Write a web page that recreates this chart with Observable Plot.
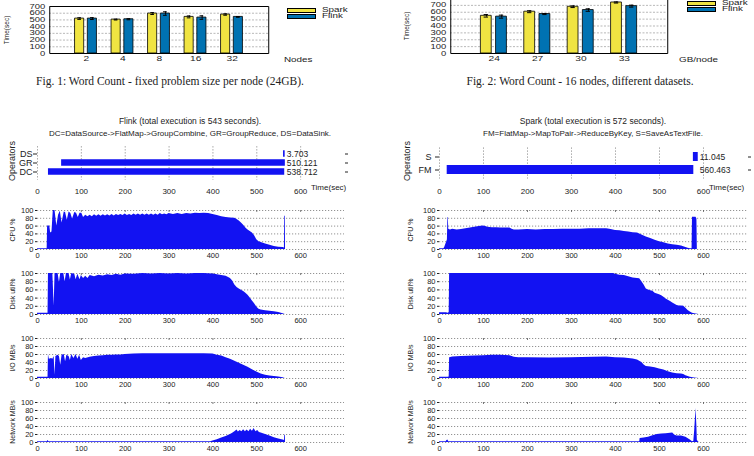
<!DOCTYPE html>
<html><head><meta charset="utf-8">
<script src="https://cdn.jsdelivr.net/npm/d3@7"></script>
<script src="https://cdn.jsdelivr.net/npm/@observablehq/plot@0.6"></script>
<style>
body{margin:0;background:#fff;}
#root{position:relative;width:754px;height:456px;overflow:hidden;background:#fff;font-family:"Liberation Sans",Arial,sans-serif;}
.tx{position:absolute;white-space:nowrap;line-height:1;color:#222;}
svg.st *{vector-effect:non-scaling-stroke;}
</style></head><body><div id="root"></div>
<script>
// ---------- data ----------
const nodes = ["2","4","8","16","32"];
const sparkNodes = [520,505,595,545,580];
const sparkNodesErr = [12,6,14,14,10];
const flinkNodes = [520,510,595,535,545];
const flinkNodesErr = [14,8,26,26,6];

const datasets = ["24","27","30","33"];
const sparkData = [548,608,680,742];
const sparkDataErr = [18,14,12,8];
const flinkData = [536,574,632,689];
const flinkDataErr = [22,8,18,14];

const timeTicks = [0,100,200,300,400,500,600];
const pctTicks = [0,20,40,60,80,100];
const fig1Ticks = [0,100,200,300,400,500,600,700];

const flinkOpNames = ["DS","GR","DC"];
const flinkOpStart = [561,55,25];
const flinkOpDur = [3.703,510.121,538.712];
const sparkOpNames = ["S","FM"];
const sparkOpStart = [577,17.5];
const sparkOpDur = [11.045,560.463];

const flinkCpu = [[0,2],[22,2],[23,60],[28,60],[30,42],[33,45],[36,100],[40,100],[44,60],[48,88],[52,98],[56,68],[61,96],[64,95],[68,75],[72,96],[76,92],[80,78],[85,95],[89,93],[93,82],[97,93],[101,93],[105,82],[110,88],[115,84],[120,88],[125,84],[130,89],[135,85],[140,89],[145,85],[150,89],[155,86],[160,89],[165,86],[170,90],[175,86],[180,90],[185,87],[190,90],[195,87],[200,91],[205,87],[210,90],[215,87],[220,91],[225,88],[230,91],[235,88],[240,91],[245,88],[250,91],[255,88],[260,91],[265,88],[270,91],[275,88],[280,92],[285,89],[290,91],[295,89],[300,92],[310,90],[320,92],[330,90],[340,92],[350,91],[360,93],[370,92],[380,93],[390,92],[400,90],[410,87],[420,84],[430,82],[440,81],[450,80],[455,77],[460,73],[465,68],[470,62],[475,55],[480,50],[485,46],[490,42],[495,35],[500,25],[505,20],[510,18],[520,14],[530,11],[540,8],[550,6],[560,5],[563,4],[563.5,85],[565,85],[565.5,0]];
const flinkDisk = [[0,3],[24,3],[25,100],[35,100],[38,20],[40,100],[47,100],[50,78],[53,100],[60,100],[63,80],[66,100],[72,100],[75,84],[78,100],[85,98],[88,85],[92,98],[97,85],[100,95],[105,88],[110,93],[115,88],[120,95],[130,92],[140,96],[150,94],[160,97],[170,95],[180,98],[190,96],[200,99],[220,98],[240,100],[260,99],[280,100],[300,99],[320,100],[340,99],[360,100],[380,100],[400,99],[410,97],[420,95],[430,93],[440,88],[445,82],[450,72],[455,66],[460,62],[465,59],[470,56],[475,52],[480,47],[485,40],[490,33],[495,26],[500,18],[505,13],[510,11],[520,9],[530,8],[540,7],[550,5],[560,2],[565,0]];
const flinkIO = [[0,3],[24,3],[25,60],[27,48],[32,50],[35,48],[38,55],[40,8],[42,55],[47,58],[50,55],[53,33],[56,58],[61,60],[64,42],[67,58],[72,55],[75,45],[78,60],[83,50],[88,60],[92,48],[96,58],[100,45],[105,52],[110,50],[120,53],[130,55],[140,56],[150,57],[160,58],[170,58],[180,59],[190,59],[200,60],[220,61],[240,62],[260,62],[280,62],[300,62],[320,62],[340,62],[360,62],[380,62],[400,61],[410,58],[420,56],[430,52],[440,48],[450,43],[460,38],[470,33],[480,28],[490,22],[500,16],[510,11],[520,8],[530,6],[540,5],[550,4],[560,2],[565,0]];
const flinkNet = [[0,2],[22,2],[24,5],[26,2],[395,2],[400,4],[410,7],[420,11],[430,15],[440,20],[445,23],[450,27],[455,31],[458,26],[462,30],[466,27],[470,32],[474,27],[478,31],[482,27],[486,33],[490,28],[494,35],[498,27],[502,30],[506,25],[510,24],[520,20],[530,16],[540,12],[550,9],[560,6],[563,5],[563.5,18],[565,18],[565.5,0]];

const sparkCpu = [[0,2],[10,2],[12,6],[14,12],[16,18],[18,25],[19,82],[20,82],[21,52],[25,50],[30,52],[40,50],[50,51],[60,53],[70,55],[80,57],[90,59],[100,60],[105,59],[110,57],[120,56],[130,56],[140,55],[150,55],[160,55],[165,52],[170,50],[180,50],[200,51],[220,50],[240,51],[260,51],[280,52],[300,52],[320,52],[340,53],[360,53],[380,53],[390,51],[400,49],[410,48],[420,46],[430,45],[440,43],[450,42],[460,37],[470,32],[480,28],[490,24],[500,20],[510,17],[520,14],[530,12],[540,11],[550,9],[555,7],[560,5],[565,3],[570,2],[574,2],[575,83],[583,83],[585,78],[586,0]];
const sparkDisk = [[0,4],[16,4],[20,3],[22,5],[23,100],[395,100],[400,98],[410,96],[420,95],[430,92],[440,89],[450,88],[455,87],[460,80],[465,72],[470,62],[475,60],[480,58],[485,57],[490,52],[500,48],[505,46],[510,42],[515,38],[520,35],[525,32],[530,28],[535,25],[540,22],[545,21],[550,21],[555,20],[560,15],[565,10],[570,6],[575,3],[580,2],[590,0]];
const sparkIO = [[0,3],[20,3],[22,4],[23,52],[30,54],[50,55],[80,56],[100,57],[120,58],[140,58],[160,57],[170,53],[180,52],[200,52],[250,51],[300,52],[350,53],[380,54],[400,52],[420,51],[440,49],[450,46],[460,40],[465,34],[470,30],[480,29],[490,27],[500,24],[510,21],[520,17],[530,14],[540,12],[550,11],[555,10],[560,7],[570,3],[580,1],[590,0]];
const sparkNet = [[0,2],[15,2],[17,5],[19,6],[21,2],[455,2],[456,10],[465,11],[475,13],[485,17],[495,20],[505,21],[515,22],[525,23],[530,24],[535,18],[540,16],[550,16],[560,13],[570,6],[575,2],[578,3],[580,30],[583,85],[585,40],[586,5],[590,0]];

// ---------- helpers ----------
const root = document.getElementById("root");
const SANS = "'Liberation Sans', Arial, sans-serif";
const SERIF = "'Liberation Serif', 'Times New Roman', serif";
const BLUE = "#1212f2";
const YELLOW = "#f0e442";
const FBLUE = "#0072b2";
const baseStyle = `font-family:${SANS};background:transparent;overflow:visible;color:#222;`;

function place(el, left, top) {
  el.style.position = "absolute";
  el.style.left = left + "px";
  el.style.top = top + "px";
  root.appendChild(el);
  return el;
}
function txt(s, x, y, {size = 8, anchor = "middle", family = SANS, rot = 0, sx = 1} = {}) {
  const d = document.createElement("div");
  d.className = "tx";
  d.textContent = s;
  d.style.fontSize = size + "px";
  d.style.fontFamily = family;
  d.style.left = x + "px";
  d.style.top = y + "px";
  const tx = anchor === "middle" ? "-50%" : anchor === "end" ? "-100%" : "0";
  d.style.transformOrigin = anchor === "start" ? "0 50%" : anchor === "end" ? "100% 50%" : "50% 50%";
  d.style.transform = `translate(${tx},-50%) rotate(${rot}deg) scaleX(${sx})`;
  root.appendChild(d);
  return d;
}
function box(left, top, color) {
  const d = document.createElement("div");
  d.style.cssText = `position:absolute;left:${left}px;top:${top}px;width:27px;height:3px;background:${color};border:1px solid #000;`;
  root.appendChild(d);
}

// ---------- top grouped bar charts (horizontally stretched like the original) ----------
function grouped({cats, spark, sparkErr, flink, flinkErr, yMax, yTicks, pageLeft, pageTop, pageW, pageH, frameL, frameR, yTopPx, y0Px, sx}) {
  const rows = cats.flatMap((c, i) => [
    {i, v: spark[i], e: sparkErr[i], x1: i - 0.3, x2: i - 0.05, c: YELLOW},
    {i, v: flink[i], e: flinkErr[i], x1: i + 0.05, x2: i + 0.3, c: FBLUE}
  ]);
  const w = pageW / sx;
  const svg = Plot.plot({
    width: w, height: pageH,
    marginLeft: (frameL - pageLeft) / sx,
    marginRight: (pageLeft + pageW - frameR) / sx,
    marginTop: yTopPx - pageTop,
    marginBottom: pageTop + pageH - y0Px,
    style: baseStyle,
    x: {domain: [-1, cats.length], label: null},
    y: {domain: [0, yMax], label: null},
    color: {type: "identity"},
    marks: [
      Plot.ruleY(yTicks.slice(1), {y: d => d, stroke: "#999", strokeDasharray: "2,1.5", strokeWidth: 0.7}),
      Plot.rectY(rows, {x1: "x1", x2: "x2", y1: 0, y2: "v", fill: "c", stroke: "#000", strokeWidth: 0.8}),
      Plot.ruleX(rows, {x: d => (d.x1 + d.x2) / 2, y1: d => d.v - d.e, y2: d => d.v + d.e, stroke: "#000", strokeWidth: 1}),
      Plot.ruleY(rows, {y: d => d.v + d.e, x1: d => (d.x1 + d.x2) / 2 - 0.05, x2: d => (d.x1 + d.x2) / 2 + 0.05, stroke: "#000", strokeWidth: 1}),
      Plot.ruleY(rows, {y: d => d.v - d.e, x1: d => (d.x1 + d.x2) / 2 - 0.05, x2: d => (d.x1 + d.x2) / 2 + 0.05, stroke: "#000", strokeWidth: 1}),
      Plot.frame({stroke: "#000", strokeWidth: 1}),
      Plot.axisY({ticks: yTicks, tickSize: 0, tickPadding: 3, fontSize: 6.3, label: null}),
      Plot.axisX({ticks: cats.map((c, i) => i), tickFormat: i => cats[i], tickSize: 0, tickPadding: 2.5, fontSize: 6.8, label: null})
    ]
  });
  svg.setAttribute("preserveAspectRatio", "none");
  svg.setAttribute("width", pageW);
  svg.style.width = pageW + "px";
  svg.style.height = pageH + "px";
  svg.style.maxWidth = "none";
  svg.classList.add("st");
  place(svg, pageLeft, pageTop);
}

grouped({cats: nodes, spark: sparkNodes, sparkErr: sparkNodesErr, flink: flinkNodes, flinkErr: flinkNodesErr,
  yMax: 700, yTicks: fig1Ticks, pageLeft: 0, pageTop: 0, pageW: 377, pageH: 70, frameL: 49, frameR: 268, yTopPx: 6, y0Px: 53, sx: 1.5});
grouped({cats: datasets, spark: sparkData, sparkErr: sparkDataErr, flink: flinkData, flinkErr: flinkDataErr,
  yMax: 800, yTicks: fig1Ticks, pageLeft: 380, pageTop: -12, pageW: 374, pageH: 82, frameL: 450, frameR: 667, yTopPx: -2, y0Px: 53, sx: 1.5});

// top chart texts
txt("Time(sec)", 7, 30, {size: 6.5, rot: -90});
txt("Nodes", 284, 59.5, {size: 6.8, anchor: "start", sx: 1.45});
box(287, 8, YELLOW); box(287, 14, FBLUE);
txt("Spark", 322, 10, {size: 6.8, anchor: "start", sx: 1.45});
txt("Flink", 322, 16, {size: 6.8, anchor: "start", sx: 1.45});

txt("Time(sec)", 407, 26, {size: 6.5, rot: -90});
txt("GB/node", 679, 59.5, {size: 6.8, anchor: "start", sx: 1.45});
box(687, 1, YELLOW); box(687, 7, FBLUE);
txt("Spark", 722, 3.4, {size: 6.8, anchor: "start", sx: 1.45});
txt("Flink", 722, 9.2, {size: 6.8, anchor: "start", sx: 1.45});

txt("Fig. 1: Word Count - fixed problem size per node (24GB).", 170, 82, {size: 11.5, family: SERIF});
txt("Fig. 2: Word Count - 16 nodes, different datasets.", 580, 82, {size: 11.5, family: SERIF});

// ---------- operators charts ----------
const fmt = d3.format(".3f");
function ops({names, starts, durs, left, x0px, x700px, bandTop, bandBottom, inset, tickPadding, yTickPad}) {
  const svgTop = 140, svgH = 60, svgW = 377;
  const rows = names.map((n, i) => ({n, s: starts[i], e: starts[i] + durs[i], d: durs[i]}));
  const maxEnd = d3.max(rows, r => r.e);
  const svg = Plot.plot({
    width: svgW, height: svgH,
    marginLeft: x0px - left, marginRight: left + svgW - x700px,
    marginTop: bandTop - svgTop, marginBottom: svgTop + svgH - bandBottom,
    style: baseStyle,
    x: {domain: [0, 700], label: null},
    y: {type: "band", domain: names, padding: 0, label: null},
    marks: [
      Plot.ruleX(timeTicks, {x: d => d, stroke: "#777", strokeDasharray: "1.2,1.8", strokeWidth: 0.8, insetTop: -2, insetBottom: -3}),
      Plot.barX(rows, {y: "n", x1: "s", x2: "e", fill: BLUE, insetTop: inset, insetBottom: inset}),
      Plot.text(rows, {y: "n", x: () => maxEnd, text: d => fmt(d.d), textAnchor: "start", dx: 1.5, fontSize: 8.5}),
      Plot.axisY({tickSize: 4, tickPadding: yTickPad, fontSize: 9, label: null}),
      Plot.axisY({anchor: "right", tickSize: 3, tickFormat: () => "", label: null}),
      Plot.axisX({ticks: timeTicks, tickSize: 0, tickPadding, fontSize: 8, label: null})
    ]
  });
  place(svg, left, svgTop);
}
ops({names: flinkOpNames, starts: flinkOpStart, durs: flinkOpDur, left: 0, x0px: 37, x700px: 344,
  bandTop: 148.25, bandBottom: 176.75, inset: 1.25, tickPadding: 11, yTickPad: 1});
ops({names: sparkOpNames, starts: sparkOpStart, durs: sparkOpDur, left: 377, x0px: 439, x700px: 747,
  bandTop: 149.5, bandBottom: 175.5, inset: 2, tickPadding: 12.5, yTickPad: 4});

// titles
txt("Flink (total execution is 543 seconds).", 190, 121, {size: 8.5});
txt("DC=DataSource->FlatMap->GroupCombine, GR=GroupReduce, DS=DataSink.", 190, 134, {size: 8});
txt("Spark (total execution is 572 seconds).", 593, 121, {size: 8.5});
txt("FM=FlatMap->MapToPair->ReduceByKey, S=SaveAsTextFile.", 593, 134, {size: 8});
txt("Operators", 12, 161, {size: 9, rot: -90});
txt("Operators", 407, 161, {size: 9, rot: -90});
txt("Time(sec)", 311, 188, {size: 8, anchor: "start"});
txt("Time(sec)", 709, 188, {size: 8, anchor: "start"});

// ---------- time-series panels ----------
function panel({pairs, left, y100, y0, x0px, x700px, label, labelX}) {
  const svgW = 377, top = y100 - 10, height = (y0 - y100) + 10 + 16;
  const rows = pairs.map(([t, v]) => ({t, v}));
  const svg = Plot.plot({
    width: svgW, height,
    marginLeft: x0px - left, marginRight: left + svgW - x700px,
    marginTop: 10, marginBottom: 16,
    style: baseStyle,
    x: {domain: [0, 700], label: null},
    y: {domain: [0, 100], label: null},
    marks: [
      Plot.ruleY(pctTicks, {y: d => d, stroke: "#777", strokeDasharray: "1.2,1.8", strokeWidth: 0.8}),
      Plot.ruleX(timeTicks.slice(1), {x: d => d, y1: 100, y2: 95, stroke: "#555", strokeWidth: 0.8}),
      Plot.areaY(rows, {x: "t", y: "v", fill: BLUE}),
      Plot.axisY({ticks: pctTicks, tickSize: 2, tickPadding: 2, fontSize: 7.5, label: null}),
      Plot.axisX({ticks: timeTicks, tickSize: 0, tickPadding: 3.5, fontSize: 7.5, label: null})
    ]
  });
  place(svg, left, top);
  txt(label, labelX, (y100 + y0) / 2, {size: 7, rot: -90});
}
const rowsY = [
  {y100: 210, y0: 249, label: "CPU %", f: flinkCpu, s: sparkCpu},
  {y100: 273, y0: 314, label: "Disk util%", f: flinkDisk, s: sparkDisk},
  {y100: 338, y0: 378, label: "I/O MB/s", f: flinkIO, s: sparkIO},
  {y100: 402, y0: 442, label: "Network MB/s", f: flinkNet, s: sparkNet}
];
for (const r of rowsY) {
  panel({pairs: r.f, left: 0, y100: r.y100, y0: r.y0, x0px: 37, x700px: 344, label: r.label, labelX: 12});
  panel({pairs: r.s, left: 377, y100: r.y100, y0: r.y0, x0px: 439, x700px: 747, label: r.label, labelX: 410});
}
</script></body></html>
